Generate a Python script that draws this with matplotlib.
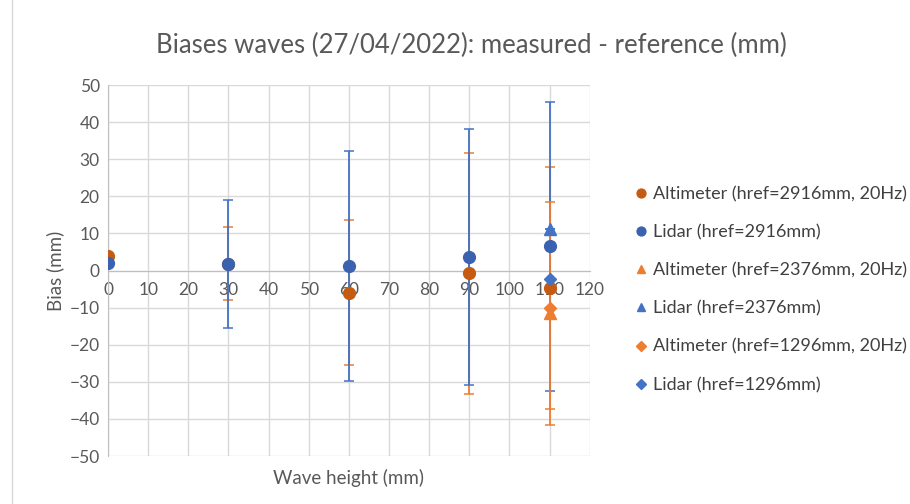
import matplotlib.pyplot as plt
from matplotlib.lines import Line2D

plt.rcParams['font.family'] = ['Lato', 'DejaVu Sans']

# data
alt_2916_x = [0, 30, 60, 90, 110]
alt_2916_y = [4.0, 1.8, -6.0, -0.8, -4.7]
alt_2916_err = [0, 9.8, 19.5, 32.5, 32.7]

lid_2916_x = [0, 30, 60, 90, 110]
lid_2916_y = [1.9, 1.8, 1.2, 3.7, 6.5]
lid_2916_err = [0, 17.2, 31.1, 34.5, 38.9]

alt_2376_x = [110]
alt_2376_y = [-11.5]
alt_2376_err = [30.1]

lid_2376_x = [110]
lid_2376_y = [11.2]
lid_2376_err = [0]

alt_1296_x = [110]
alt_1296_y = [-10.0]
alt_1296_err = [0]

lid_1296_x = [110]
lid_1296_y = [-2.2]
lid_1296_err = [0]

labels = ['Altimeter (href=2916mm, 20Hz)', 'Lidar (href=2916mm)',
          'Altimeter (href=2376mm, 20Hz)', 'Lidar (href=2376mm)',
          'Altimeter (href=1296mm, 20Hz)', 'Lidar (href=1296mm)']

orange_dark = '#C55A11'
orange = '#ED7D31'
blue_dark = '#3A62AE'
blue = '#4472C4'

fig = plt.figure(figsize=(9.1, 5.04), dpi=100)
ax = fig.add_axes([0.1187, 0.0952, 0.5293, 0.7361])

series = [
    (alt_2916_x, alt_2916_y, alt_2916_err, 'o', orange_dark, orange),
    (lid_2916_x, lid_2916_y, lid_2916_err, 'o', blue_dark, blue),
    (alt_2376_x, alt_2376_y, alt_2376_err, '^', orange, orange),
    (lid_2376_x, lid_2376_y, lid_2376_err, '^', blue, blue),
    (alt_1296_x, alt_1296_y, alt_1296_err, 'D', orange, orange),
    (lid_1296_x, lid_1296_y, lid_1296_err, 'D', blue, blue),
]

handles = []
for i, (x, y, err, m, c, ec) in enumerate(series):
    ms = 6.5 if m == 'D' else 8.5
    ax.errorbar(x, y, yerr=err, fmt='none', ecolor=ec, elinewidth=1.3,
                capsize=3.5, capthick=1.1, zorder=3 + i)
    ax.plot(x, y, linestyle='none', marker=m, color=c, markersize=ms,
            zorder=10 + i)
    handles.append(Line2D([], [], linestyle='none', marker=m, color=c,
                          markersize=ms * 0.75))

ax.set_xlim(0, 120)
ax.set_ylim(-50, 50)
ax.set_xticks(range(0, 121, 10))
ax.set_yticks(range(-50, 51, 10))
ax.grid(True, color='#D9D9D9', linewidth=1)
ax.set_axisbelow(True)

for s in ['top', 'right']:
    ax.spines[s].set_visible(False)
ax.spines['bottom'].set_position(('data', 0))
ax.spines['bottom'].set_color('#BFBFBF')
ax.spines['left'].set_color('#BFBFBF')
ax.spines['bottom'].set_zorder(2)
ax.tick_params(length=0, labelsize=12.5, labelcolor='#595959', pad=6)
ax.tick_params(axis='x', pad=8)

ax.set_xlabel('Wave height (mm)', fontsize=13.5, color='#595959')
ax.xaxis.set_label_coords(0.5, -0.035)
ax.set_ylabel('Bias (mm)', fontsize=13.5, color='#595959', labelpad=4)

fig.suptitle('Biases waves (27/04/2022): measured - reference (mm)',
             x=0.518, y=0.935, fontsize=18.5, color='#595959')

fig.legend(handles, labels, loc='upper left', bbox_to_anchor=(0.691, 0.645),
           frameon=False, fontsize=13, labelcolor='#404040',
           handlelength=0.6, handletextpad=0.35, labelspacing=1.22,
           borderaxespad=0)

fig.add_artist(Line2D([0.013, 0.013], [0, 1], color='#D9D9D9', linewidth=1))

fig.savefig('out.png', dpi=100)
